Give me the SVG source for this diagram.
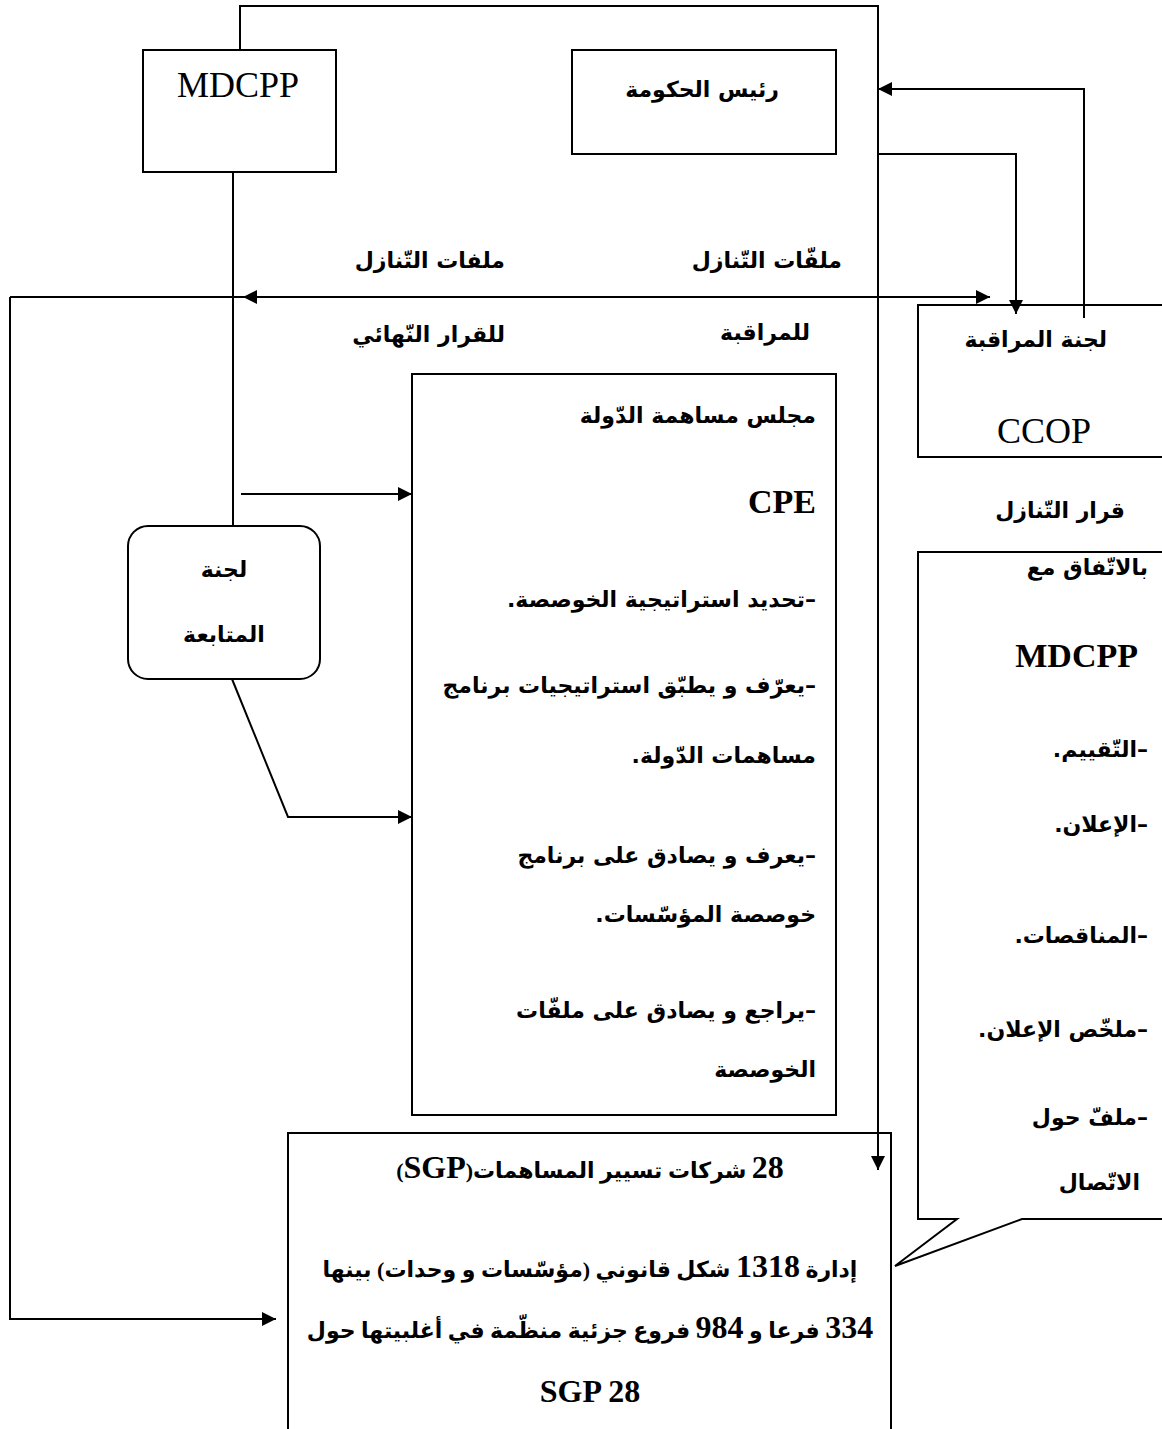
<svg xmlns="http://www.w3.org/2000/svg" width="1162" height="1429" viewBox="0 0 1162 1429">
  <style>
    .box { fill: none; stroke: #000; stroke-width: 2; }
    .wire { fill: none; stroke: #000; stroke-width: 2; }
    .ar { font-family: "DejaVu Sans", "Noto Sans", sans-serif; font-weight: bold; font-size: 22px; direction: rtl; unicode-bidi: embed; fill: #000; }
    .mix { font-family: "Liberation Serif", "DejaVu Sans", serif; font-weight: bold; font-size: 22px; direction: rtl; unicode-bidi: embed; fill: #000; }
    .num { font-size: 32px; }
    .lat { font-family: "Liberation Serif", serif; fill: #000; }
    .r { text-anchor: start; }
    .c { text-anchor: middle; }
  </style>
  <defs>
    <marker id="ah" viewBox="0 0 10 10" refX="10" refY="5" markerWidth="15" markerHeight="14" markerUnits="userSpaceOnUse" orient="auto">
      <path d="M0,0 L10,5 L0,10 z" fill="#000"/>
    </marker>
  </defs>

  <g id="connectors">
    <!-- MDCPP loop over the top down to the SGP box -->
    <path class="wire" d="M240,50 V6 H878 V1170" marker-end="url(#ah)"/>
    <!-- MDCPP down to the follow-up committee -->
    <path class="wire" d="M233,172 V526"/>
    <path class="wire" d="M241,494 H412" marker-end="url(#ah)"/>
    <!-- follow-up committee to CPE -->
    <path class="wire" d="M232,679 L288,817 H412" marker-end="url(#ah)"/>
    <!-- files line, both directions -->
    <path class="wire" d="M10,297 H990" marker-end="url(#ah)"/>
    <path class="wire" d="M300,297 H243" marker-end="url(#ah)"/>
    <path class="wire" d="M10,297 V1319 H276" marker-end="url(#ah)"/>
    <!-- CCOP back to head of government -->
    <path class="wire" d="M1084,318 V89 H878" marker-end="url(#ah)"/>
    <!-- head of government to CCOP -->
    <path class="wire" d="M878,154 H1016 V314" marker-end="url(#ah)"/>
  </g>

  <g id="mdcpp">
    <rect class="box" x="143" y="50" width="193" height="122"/>
    <text class="lat" x="238" y="97" font-size="36" text-anchor="middle">MDCPP</text>
  </g>

  <g id="head-of-government">
    <rect class="box" x="572" y="50" width="264" height="104"/>
    <text class="ar r" x="779" y="97">رئيس الحكومة</text>
  </g>

  <g id="labels">
    <text class="ar r" x="842" y="268">ملفّات التّنازل</text>
    <text class="ar r" x="810" y="340">للمراقبة</text>
    <text class="ar r" x="505" y="268">ملفات التّنازل</text>
    <text class="ar r" x="505" y="342">للقرار النّهائي</text>
    <text class="ar r" x="1125" y="518">قرار التّنازل</text>
  </g>

  <g id="ccop">
    <rect class="box" x="918" y="305" width="262" height="152"/>
    <text class="ar r" x="1107" y="347">لجنة المراقبة</text>
    <text class="lat" x="1044" y="443" font-size="36" text-anchor="middle">CCOP</text>
  </g>

  <g id="follow-up-committee">
    <rect class="box" x="128" y="526" width="192" height="153" rx="20" ry="20"/>
    <text class="ar c" x="224" y="577">لجنة</text>
    <text class="ar c" x="224" y="642">المتابعة</text>
  </g>

  <g id="cpe">
    <rect class="box" x="412" y="374" width="424" height="741"/>
    <text class="ar r" x="816" y="423">مجلس مساهمة الدّولة</text>
    <text class="lat" x="816" y="513" font-size="34" font-weight="bold" text-anchor="end">CPE</text>
    <text class="ar r" x="816" y="607">–تحديد استراتيجية الخوصصة.</text>
    <text class="ar r" x="816" y="693">–يعرّف و يطبّق استراتيجيات برنامج</text>
    <text class="ar r" x="816" y="763">مساهمات الدّولة.</text>
    <text class="ar r" x="816" y="863">–يعرف و يصادق على برنامج</text>
    <text class="ar r" x="816" y="922">خوصصة المؤسّسات.</text>
    <text class="ar r" x="816" y="1018">–يراجع و يصادق على ملفّات</text>
    <text class="ar r" x="816" y="1077">الخوصصة</text>
  </g>

  <g id="cession-decision">
    <path class="box" d="M918,552 H1180 V1219 H1022 L895,1266 L957,1219 H918 Z"/>
    <text class="ar r" x="1148" y="575">بالاتّفاق  مع</text>
    <text class="lat" x="1138" y="667" font-size="34" font-weight="bold" text-anchor="end">MDCPP</text>
    <text class="ar r" x="1148" y="757">–التّقييم.</text>
    <text class="ar r" x="1148" y="832">–الإعلان.</text>
    <text class="ar r" x="1148" y="943">–المناقصات.</text>
    <text class="ar r" x="1148" y="1037">–ملخّص الإعلان.</text>
    <text class="ar r" x="1148" y="1125">–ملفّ حول</text>
    <text class="ar r" x="1140" y="1190">الاتّصال</text>
  </g>

  <g id="sgp">
    <rect class="box" x="288" y="1133" width="603" height="320"/>
    <text class="mix c" x="590" y="1178"><tspan class="num">28</tspan> شركات تسيير المساهمات(<tspan class="num">SGP</tspan>)</text>
    <text class="mix c" x="590" y="1277">إدارة <tspan class="num">1318</tspan> شكل قانوني (مؤسّسات و وحدات) بينها</text>
    <text class="mix c" x="590" y="1338"><tspan class="num">334</tspan> فرعا و <tspan class="num">984</tspan> فروع جزئية منظّمة في أغلبيتها حول</text>
    <text class="mix c" x="590" y="1402"><tspan class="num">SGP 28</tspan></text>
  </g>
</svg>
